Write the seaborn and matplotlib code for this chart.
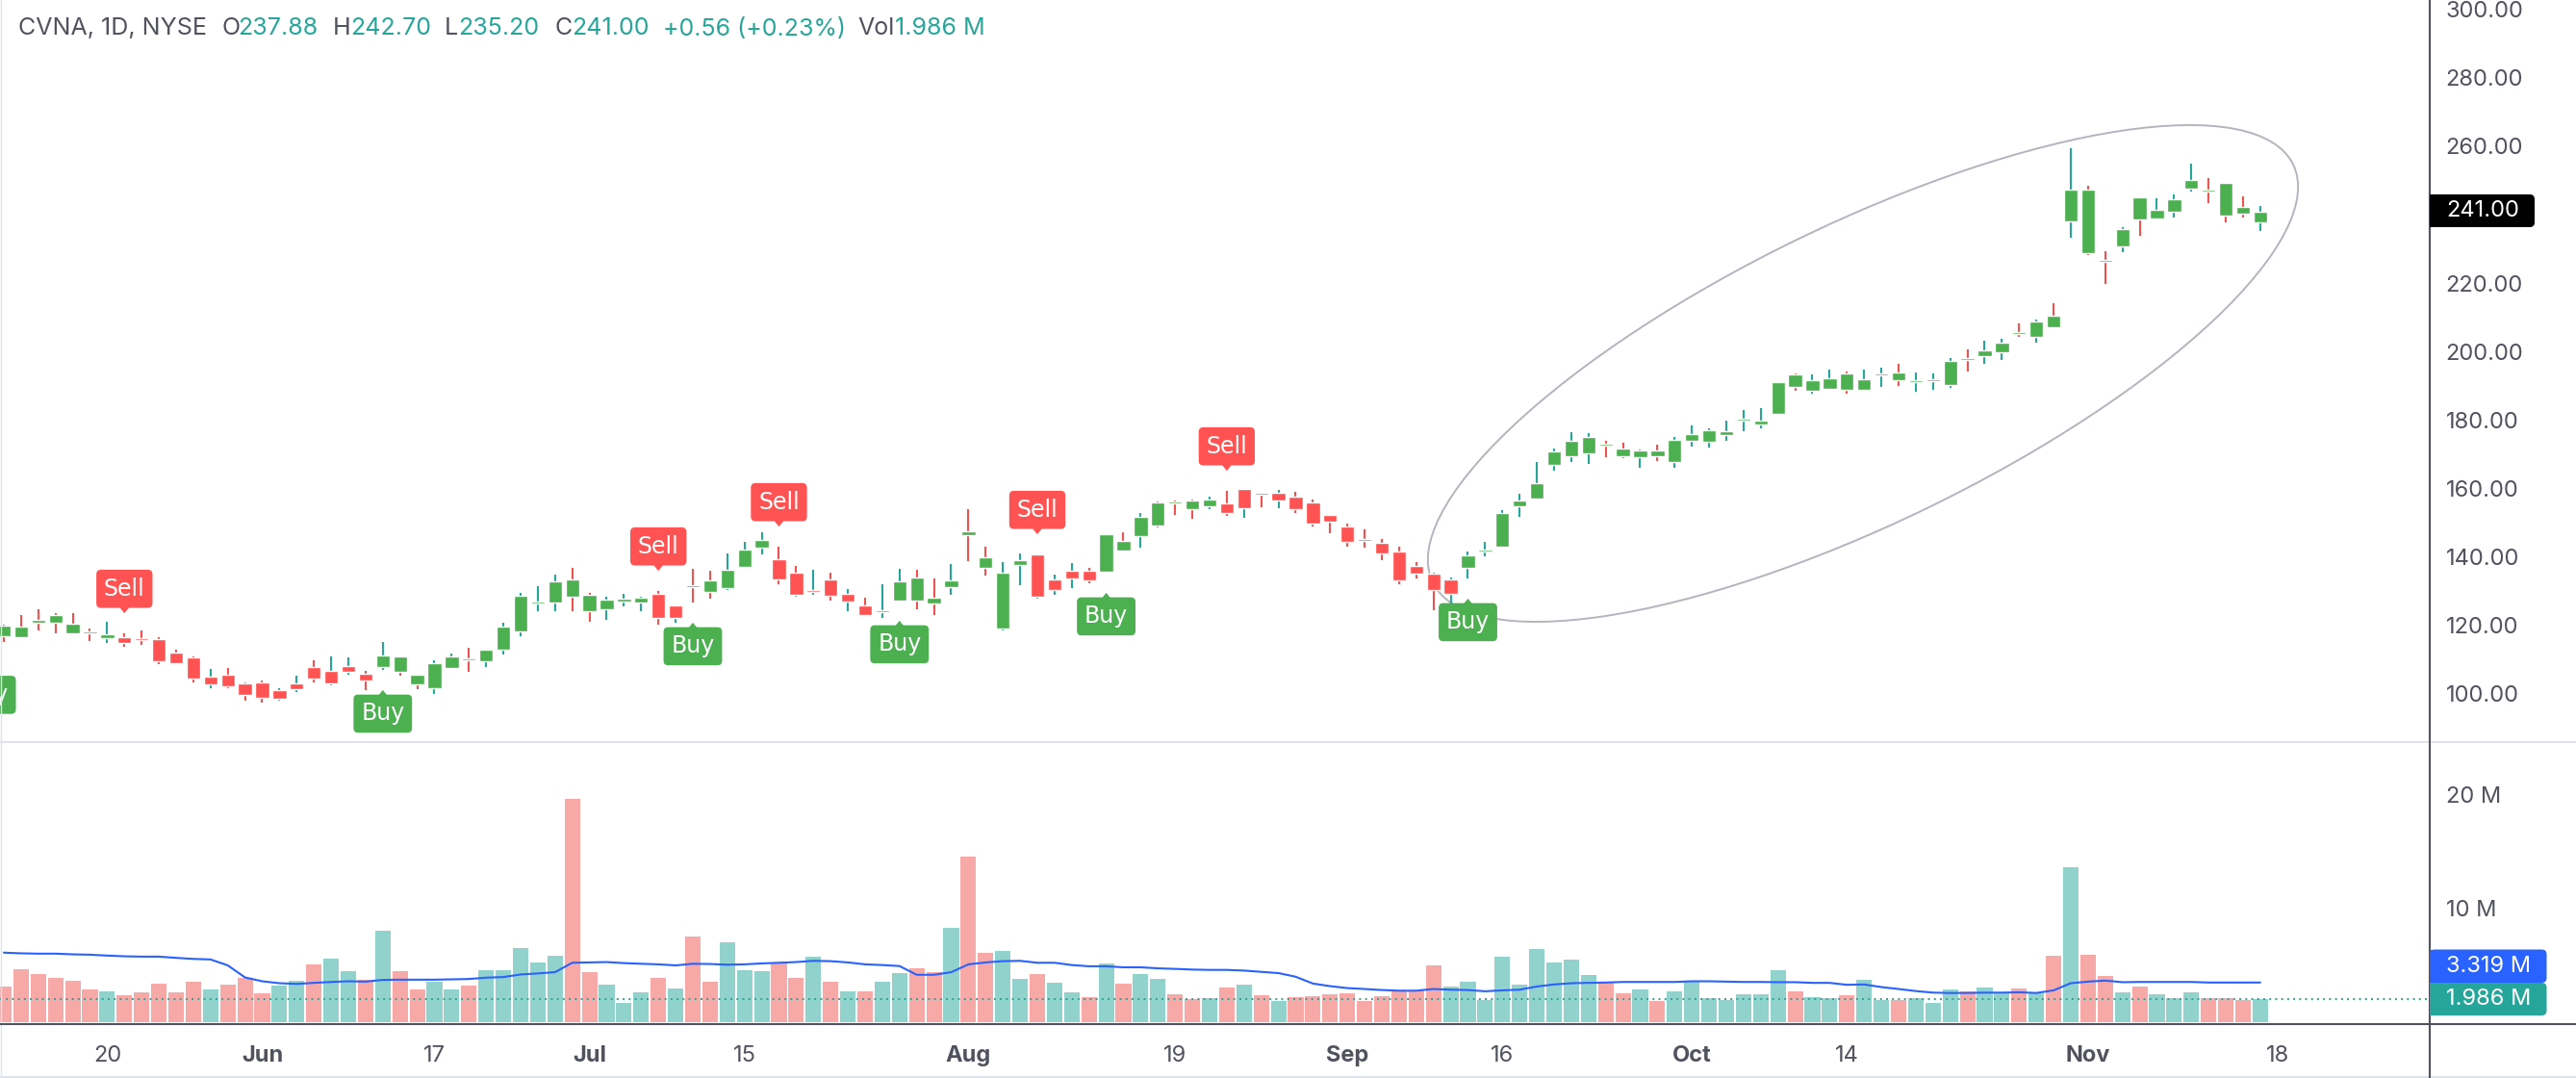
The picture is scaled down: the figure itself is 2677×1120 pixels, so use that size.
import matplotlib.pyplot as plt
import pandas as pd
import seaborn as sns
from matplotlib.patches import Ellipse, FancyBboxPatch, Rectangle
from matplotlib.transforms import IdentityTransform

GREEN = "#4caf50"
RED = "#ff5252"
TEAL = "#26a69a"
WICK_RED = "#ef5350"
TEXT = "#50535e"
LIGHT = "#e0e3eb"

# open, high, low, close, volume (M), volume average (M)
rows = [
    (119.95, 120.23, 115.26, 116.95, 3.09, 6.09), (119.67, 123.04, 116.67, 116.67, 4.63, 6.03),
    (121.64, 124.73, 118.54, 120.89, 4.20, 6.00), (123.04, 123.60, 117.79, 120.89, 3.86, 6.00),
    (120.51, 123.60, 117.42, 117.79, 3.60, 5.94), (118.26, 119.10, 115.54, 117.79, 2.83, 5.91),
    (116.29, 121.07, 114.98, 117.42, 2.66, 5.83), (116.57, 117.70, 113.76, 114.89, 2.31, 5.77),
    (116.29, 118.54, 114.32, 115.82, 2.57, 5.74), (116.01, 116.57, 108.70, 109.54, 3.34, 5.74),
    (112.07, 112.92, 108.70, 108.98, 2.57, 5.63), (110.67, 110.95, 103.35, 104.48, 3.51, 5.54),
    (102.79, 107.29, 101.67, 105.04, 2.83, 5.49), (105.60, 107.57, 101.67, 102.23, 3.26, 4.97),
    (103.07, 103.35, 98.01, 99.70, 3.86, 3.91), (103.35, 103.92, 97.45, 98.85, 2.49, 3.57),
    (98.57, 101.67, 98.01, 101.10, 3.17, 3.40), (101.39, 105.32, 100.54, 103.07, 3.60, 3.34),
    (107.85, 109.82, 103.35, 104.48, 5.06, 3.43), (103.07, 110.95, 102.51, 106.73, 5.57, 3.51),
    (106.45, 110.67, 105.60, 108.13, 4.46, 3.57), (105.88, 106.73, 101.10, 103.92, 3.69, 3.54),
    (107.85, 115.17, 107.01, 111.23, 8.06, 3.69), (110.95, 110.95, 105.32, 106.45, 4.46, 3.71),
    (105.60, 105.60, 101.39, 102.79, 2.83, 3.71), (101.67, 109.82, 99.98, 108.98, 3.51, 3.71),
    (107.57, 111.79, 107.57, 110.95, 2.83, 3.74), (110.39, 113.48, 106.45, 109.82, 3.17, 3.77),
    (109.54, 112.92, 107.85, 112.92, 4.54, 3.89), (112.92, 120.79, 111.51, 119.67, 4.54, 3.94),
    (118.26, 129.51, 116.85, 128.67, 6.51, 4.17), (126.42, 131.48, 124.17, 126.98, 5.23, 4.26),
    (126.70, 134.85, 124.17, 132.88, 5.83, 4.37), (133.45, 136.82, 124.17, 128.39, 19.63, 5.20),
    (128.95, 129.51, 121.07, 124.17, 4.37, 5.23), (124.73, 128.39, 121.64, 127.54, 3.26, 5.26),
    (126.98, 129.23, 125.57, 127.82, 1.63, 5.17), (126.70, 128.39, 124.17, 128.10, 2.57, 5.11),
    (129.23, 130.07, 120.23, 122.20, 3.86, 5.06), (122.20, 125.85, 120.79, 125.85, 2.91, 4.97),
    (131.76, 136.54, 126.70, 131.20, 7.54, 5.11), (133.17, 135.98, 127.82, 129.79, 3.51, 5.09),
    (130.92, 141.04, 130.35, 136.26, 7.03, 5.03), (137.10, 144.42, 136.82, 142.17, 4.54, 5.06),
    (142.73, 147.23, 140.76, 144.98, 4.46, 5.14), (139.35, 143.01, 132.04, 133.45, 5.14, 5.20),
    (135.42, 137.39, 128.39, 128.95, 3.86, 5.26), (129.79, 136.26, 128.95, 130.35, 5.74, 5.37),
    (133.45, 135.42, 127.26, 128.67, 3.51, 5.34), (126.98, 130.64, 124.17, 129.23, 2.66, 5.23),
    (125.85, 128.10, 123.04, 123.04, 2.66, 5.06), (123.89, 132.04, 122.20, 124.45, 3.51, 5.00),
    (127.26, 136.54, 127.26, 132.88, 4.29, 4.91), (134.01, 136.26, 124.73, 127.26, 4.71, 4.14),
    (128.10, 133.73, 123.04, 126.42, 4.37, 4.14), (131.20, 137.95, 128.95, 133.17, 8.31, 4.37),
    (147.51, 153.98, 138.79, 146.38, 14.57, 5.06), (139.92, 143.01, 134.57, 136.82, 6.09, 5.23),
    (119.10, 138.51, 118.54, 135.42, 6.26, 5.34), (137.67, 141.04, 131.76, 139.07, 3.77, 5.37),
    (140.76, 140.76, 127.82, 128.39, 4.20, 5.20), (130.35, 134.85, 128.95, 133.45, 3.43, 5.20),
    (133.73, 138.23, 130.92, 135.98, 2.57, 5.00), (135.98, 136.82, 132.32, 133.17, 2.14, 4.89),
    (135.70, 146.67, 135.42, 146.67, 5.14, 4.89), (144.70, 147.23, 141.60, 141.88, 3.34, 4.80),
    (146.10, 152.85, 142.73, 151.73, 4.20, 4.80), (149.20, 156.23, 148.63, 155.95, 3.77, 4.71),
    (156.23, 156.51, 152.29, 155.67, 2.40, 4.66), (156.51, 156.79, 151.17, 153.98, 1.97, 4.60),
    (154.82, 157.64, 153.98, 156.79, 2.06, 4.57), (155.67, 159.32, 152.01, 152.85, 3.00, 4.57),
    (154.26, 159.88, 151.45, 159.88, 3.26, 4.51), (158.76, 158.76, 154.54, 158.20, 2.31, 4.40),
    (156.51, 159.60, 154.26, 158.76, 1.80, 4.29), (157.64, 159.04, 152.85, 153.98, 2.14, 3.97),
    (155.95, 156.79, 148.92, 149.76, 2.23, 3.37), (152.29, 152.29, 146.95, 150.32, 2.40, 3.14),
    (148.92, 149.76, 143.01, 144.42, 2.49, 2.97), (145.26, 148.07, 142.73, 144.70, 1.80, 2.89),
    (144.14, 145.26, 139.07, 141.04, 2.23, 2.80), (141.60, 143.01, 132.04, 133.17, 2.74, 2.74),
    (137.39, 138.51, 133.73, 135.14, 2.74, 2.74), (135.14, 135.42, 124.45, 130.35, 4.97, 2.89),
    (129.23, 134.01, 126.51, 133.45, 3.09, 2.83), (136.82, 141.60, 133.73, 140.48, 3.51, 2.80),
    (141.60, 144.42, 140.20, 142.17, 1.89, 2.69), (143.01, 153.70, 143.01, 152.85, 5.74, 2.77),
    (154.82, 158.48, 151.73, 156.51, 3.26, 2.83), (157.07, 167.76, 157.07, 161.57, 6.43, 3.11),
    (166.92, 171.70, 165.23, 170.85, 5.23, 3.29), (169.45, 176.48, 167.76, 173.95, 5.49, 3.40),
    (170.29, 176.20, 167.20, 175.07, 4.11, 3.43), (173.10, 173.95, 169.17, 172.54, 3.43, 3.46),
    (171.70, 173.39, 168.89, 169.45, 2.49, 3.51), (169.17, 171.42, 166.07, 171.13, 2.83, 3.51),
    (171.13, 172.82, 168.04, 169.45, 1.80, 3.51), (167.76, 175.07, 166.07, 174.23, 2.66, 3.51),
    (173.95, 178.45, 172.26, 175.92, 3.60, 3.57), (173.67, 177.60, 171.98, 177.04, 2.06, 3.57),
    (175.64, 179.85, 173.95, 176.76, 1.89, 3.54), (179.84, 182.93, 176.75, 180.40, 2.40, 3.51),
    (178.71, 183.50, 177.59, 179.84, 2.40, 3.51), (181.81, 191.09, 181.81, 191.09, 4.54, 3.49),
    (193.34, 193.62, 188.56, 189.68, 2.66, 3.49), (188.56, 193.34, 187.71, 191.65, 2.14, 3.43),
    (189.12, 194.74, 188.84, 192.21, 2.06, 3.43), (193.62, 194.18, 187.71, 188.84, 2.31, 3.26),
    (188.84, 194.74, 188.84, 191.93, 3.69, 3.29), (193.06, 195.31, 189.68, 193.62, 1.89, 3.06),
    (193.90, 196.43, 189.96, 191.65, 1.89, 2.89), (191.09, 193.90, 188.28, 191.65, 2.06, 2.71),
    (191.37, 193.62, 188.84, 191.93, 1.63, 2.57), (190.25, 198.12, 189.40, 197.28, 2.83, 2.54),
    (198.12, 200.65, 194.18, 197.56, 2.66, 2.54), (198.68, 203.18, 196.43, 200.37, 3.00, 2.57),
    (199.81, 203.74, 197.56, 202.62, 2.57, 2.57), (205.71, 208.25, 204.31, 205.15, 2.91, 2.60),
    (204.31, 209.37, 202.62, 208.81, 2.49, 2.54), (210.49, 214.15, 207.12, 207.12, 5.83, 2.77),
    (238.06, 259.43, 233.28, 247.34, 13.63, 3.40), (247.34, 248.46, 228.21, 228.78, 5.91, 3.54),
    (226.81, 229.34, 219.78, 226.24, 4.03, 3.63), (230.74, 236.37, 229.06, 235.81, 2.57, 3.49),
    (245.09, 245.09, 233.84, 238.62, 3.09, 3.51), (238.90, 244.81, 238.62, 241.43, 2.40, 3.51),
    (240.87, 245.93, 239.18, 244.53, 2.06, 3.51), (247.62, 254.93, 246.78, 250.15, 2.57, 3.51),
    (247.34, 250.71, 243.40, 246.78, 2.06, 3.46), (249.31, 249.31, 237.78, 239.74, 2.06, 3.46),
    (242.28, 245.37, 239.18, 240.44, 1.89, 3.46), (237.88, 242.70, 235.20, 241.00, 1.986, 3.46),
]
df = pd.DataFrame(rows, columns=["open", "high", "low", "close", "volume", "vol_ma"])
df["bar"] = range(-6, 126)
df["rising"] = df["close"] >= df["open"]

# the trade signals, by bar number
buys = [-7, 16, 34, 46, 58, 79]
sells = [1, 32, 39, 54, 65]

date_ticks = {0: "20", 9: "Jun", 19: "17", 28: "Jul", 37: "15", 50: "Aug", 62: "19",
              72: "Sep", 81: "16", 92: "Oct", 101: "14", 115: "Nov", 126: "18"}
months = ["Jun", "Jul", "Aug", "Sep", "Oct", "Nov"]
price_ticks = [100, 120, 140, 160, 180, 200, 220, 260, 280, 300]  # 240 sits under the last-price label


def signal_colors(df):
    """
    Body colour of every candle: green after a buy, red after a sell.
    """
    colors = []
    current = GREEN
    for bar in df["bar"]:
        if bar in buys:
            current = GREEN
        if bar in sells:
            current = RED
        colors.append(current)
    return colors


def add_signal(label, bar, price):
    """
    One Buy or Sell badge, with its pointer at the candle.
    """
    color = GREEN if label == "Buy" else RED
    offset = -45.4 if label == "Buy" else 46.3
    plt.annotate(label, xy=(bar, price), xytext=(0, offset), textcoords="offset pixels",
                 ha="center", va="center", color="white", fontsize=17, family="DejaVu Sans",
                 bbox=dict(boxstyle="round,pad=0.33,rounding_size=0.2", fc=color, ec="none"),
                 arrowprops=dict(arrowstyle="-|>,head_length=0.36,head_width=0.29", color=color,
                                 shrinkA=0, shrinkB=15, lw=0),
                 annotation_clip=False, clip_on=True, zorder=6)


def plot_price_pane(df):
    """
    Candles, signal badges, and the hand-drawn ellipse.
    """
    plt.axes([0, 349 / 1120, 2525 / 2677, 771 / 1120])
    wick_colors = [TEAL if up else WICK_RED for up in df["rising"]]
    plt.vlines(df["bar"], df["low"], df["high"], colors=wick_colors, lw=1.5, zorder=3)
    body_low = df[["open", "close"]].min(axis=1)
    body_high = df[["open", "close"]].max(axis=1)
    plt.bar(df["bar"], body_high - body_low, bottom=body_low, width=0.8,
            color=signal_colors(df), zorder=4)
    for bar in buys:
        low = 112.5 if bar not in df["bar"].values else df.loc[df["bar"] == bar, "low"].iloc[0]
        add_signal("Buy", bar, low)
    for bar in sells:
        add_signal("Sell", bar, df.loc[df["bar"] == bar, "high"].iloc[0])
    plt.gca().add_patch(Ellipse((1936, 732), 994, 310, angle=25.9, fill=False, ec="#b2b5be",
                                lw=1.4, transform=IdentityTransform(), zorder=2))
    plt.xlim(-6.223, 134.84)
    plt.ylim(85.93, 302.74)
    plt.xticks([])
    plt.yticks(price_ticks, [f"{p}.00" for p in price_ticks])
    plt.gca().yaxis.tick_right()
    plt.tick_params(axis="y", length=0, pad=12, labelsize=17, labelcolor=TEXT)
    sns.despine(left=True, bottom=True, right=True, top=True)


def plot_volume_pane(df):
    """
    Volume bars with their moving average and the last-value line.
    """
    plt.axes([0, 56 / 1120, 2525 / 2677, 292 / 1120])
    sns.barplot(x=df["bar"], y=df["volume"], hue=df["rising"], native_scale=True, width=0.9,
                palette={True: "#92d2cc", False: "#f7a9a7"}, saturation=1, linewidth=0, legend=False)
    sns.lineplot(x=df["bar"], y=df["vol_ma"], color="#2962ff", lw=1.5, errorbar=None)
    plt.axhline(1.986, color=TEAL, lw=1.4, ls=(0, (1, 2.2)))
    plt.xlim(-6.223, 134.84)
    plt.ylim(-0.2, 24.54)
    plt.xlabel("")
    plt.ylabel("")
    plt.xticks(list(date_ticks), list(date_ticks.values()))
    for tick in plt.gca().get_xticklabels():
        if tick.get_text() in months:
            tick.set_fontweight("bold")
    plt.yticks([10, 20], ["10 M", "20 M"])
    plt.gca().yaxis.tick_right()
    plt.tick_params(axis="y", length=0, pad=12, labelsize=17, labelcolor=TEXT)
    plt.tick_params(axis="x", length=0, pad=16, labelsize=17, labelcolor=TEXT)
    sns.despine(left=True, bottom=True, right=True, top=True)


def add_axis_badge(label, top, bottom, width, color):
    """
    Coloured last-value label on the right axis (pixel rows from the top).
    """
    fig = plt.gcf()
    y = 1120 - bottom
    height = bottom - top
    fig.add_artist(FancyBboxPatch((2525, y), width, height, boxstyle="round,pad=0,rounding_size=5",
                                  fc=color, ec="none", transform=IdentityTransform(), zorder=3))
    fig.add_artist(Rectangle((2525, y), 20, height, fc=color, ec="none",
                             transform=IdentityTransform(), zorder=3))
    fig.text(2542 / 2677, (y + height / 2) / 1120, label, color="white", fontsize=17,
             va="center", zorder=4)


def add_frame():
    """
    Pane dividers and the dark axis lines.
    """
    fig = plt.gcf()
    fig.add_artist(plt.Line2D([0, 1], [349 / 1120, 349 / 1120], color=LIGHT, lw=1.5))
    fig.add_artist(plt.Line2D([0, 1], [1 / 1120, 1 / 1120], color=LIGHT, lw=1.5))
    fig.add_artist(plt.Line2D([1 / 2677, 1 / 2677], [0, 1], color=LIGHT, lw=1))
    fig.add_artist(plt.Line2D([0, 1], [56 / 1120, 56 / 1120], color=TEXT, lw=1.5))
    fig.add_artist(plt.Line2D([2525 / 2677, 2525 / 2677], [0, 1], color=TEXT, lw=1.5))


def add_header():
    """
    Symbol line in the top left corner.
    """
    parts = [(19, "CVNA, 1D, NYSE", TEXT), (230, "O", TEXT), (247, "237.88", TEAL),
             (346, "H", TEXT), (364, "242.70", TEAL), (462, "L", TEXT), (476, "235.20", TEAL),
             (576, "C", TEXT), (594, "241.00", TEAL), (689, "+0.56 (+0.23%)", TEAL),
             (891, "Vol", TEXT), (930, "1.986 M", TEAL)]
    for x, label, color in parts:
        plt.gcf().text(x / 2677, 1 - 30 / 1120, label, color=color, fontsize=18, va="center")


sns.set_theme(style="white")
plt.rcParams["font.family"] = ["Inter", "DejaVu Sans"]

plt.figure(figsize=(26.77, 11.2), dpi=100)
plot_price_pane(df)
plot_volume_pane(df)
add_frame()
add_axis_badge("241.00", 202, 236, 109, "#000000")
add_axis_badge("3.319 M", 986.5, 1021, 121.5, "#2962ff")
add_axis_badge("1.986 M", 1021, 1055, 121.5, TEAL)
add_header()
plt.savefig("out.png", dpi=100)
